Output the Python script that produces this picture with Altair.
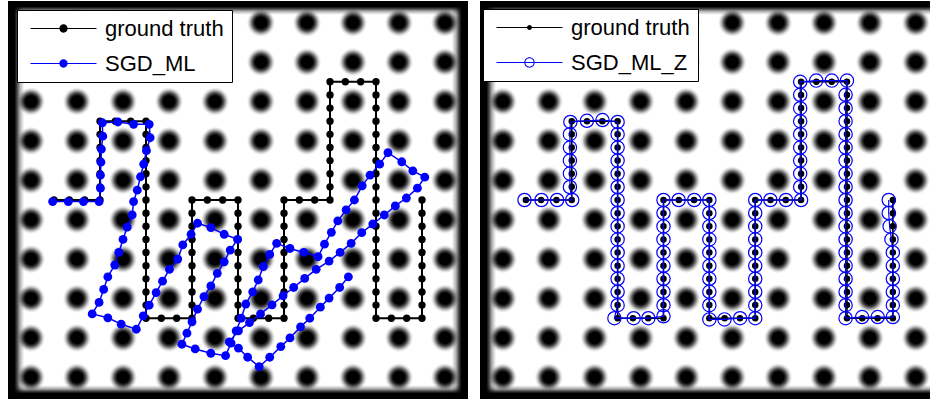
import altair as alt
import pandas as pd

# ---------------- data ----------------
# centres of the dark potential wells (same grid in both panels)
BLOB_CENTERS = [0.5, 1.5, 2.5, 3.5, 4.5, 5.5, 6.5, 7.5, 8.5, 9.5]
BLOB_HALF = 0.5

# ground-truth trajectory, coordinates in thirds of a lattice unit
GT_X3 = [3, 4, 5, 6,
         6, 6, 6, 6, 6, 6,
         7, 8, 9,
         9, 9, 9, 9, 9, 9, 9, 9, 9, 9, 9, 9, 9, 9, 9,
         10, 11, 12,
         12, 12, 12, 12, 12, 12, 12, 12, 12,
         13, 14, 15,
         15, 15, 15, 15, 15, 15, 15, 15, 15,
         16, 17, 18,
         18, 18, 18, 18, 18, 18, 18, 18, 18,
         19, 20, 21,
         21, 21, 21, 21, 21, 21, 21, 21, 21,
         22, 23, 24,
         24, 24, 24, 24, 24, 24, 24, 24, 24, 24, 24, 24, 24, 24, 24, 24, 24, 24,
         25, 26, 27,
         27, 27, 27, 27, 27, 27, 27, 27, 27]
GT_Y3 = [15, 15, 15, 15,
         14, 13, 12, 11, 10, 9,
         9, 9, 9,
         10, 11, 12, 13, 14, 15, 16, 17, 18, 19, 20, 21, 22, 23, 24,
         24, 24, 24,
         23, 22, 21, 20, 19, 18, 17, 16, 15,
         15, 15, 15,
         16, 17, 18, 19, 20, 21, 22, 23, 24,
         24, 24, 24,
         23, 22, 21, 20, 19, 18, 17, 16, 15,
         15, 15, 15,
         14, 13, 12, 11, 10, 9, 8, 7, 6,
         6, 6, 6,
         7, 8, 9, 10, 11, 12, 13, 14, 15, 16, 17, 18, 19, 20, 21, 22, 23, 24,
         24, 24, 24,
         23, 22, 21, 20, 19, 18, 17, 16, 15]
THIRDS = 3.0

# SGD_ML estimate (left panel)
SGD_ML_X = [0.97, 1.31, 1.64, 1.98,
            2.01, 2.01, 2.02, 2.03, 2.06, 2.05,
            2.39, 2.73, 3.07,
            3.09, 3.01, 2.95, 2.88, 2.81, 2.73, 2.70, 2.59, 2.50, 2.41, 2.32, 2.17, 2.08, 1.98, 1.83,
            2.17, 2.46, 2.79,
            2.94, 3.07, 3.22, 3.36, 3.51, 3.69, 3.80, 3.98, 4.12,
            4.41, 4.70, 4.99,
            4.83, 4.70, 4.55, 4.41, 4.26, 4.12, 4.00, 3.89, 3.78,
            4.07, 4.41, 4.73,
            4.85, 4.96, 5.07, 5.17, 5.32, 5.44, 5.55, 5.69, 5.84,
            6.13, 6.43, 6.74,
            6.88, 7.03, 7.17, 7.35, 7.53, 7.70, 7.87, 8.08, 8.26,
            8.56, 8.80, 9.06,
            8.90, 8.66, 8.42, 8.18, 7.93, 7.69, 7.46, 7.22, 6.98, 6.70, 6.45, 6.21, 5.98, 5.74, 5.49, 5.25, 5.01, 4.81,
            5.01, 5.21, 5.46,
            5.69, 5.93, 6.13, 6.36, 6.56, 6.79, 6.98, 7.21, 7.40]
SGD_ML_Y = [5.04, 5.04, 5.04, 5.04,
            4.70, 4.37, 4.04, 3.71, 3.38, 3.04,
            3.02, 3.08, 3.08,
            3.42, 3.75, 4.09, 4.41, 4.75, 5.04, 5.38, 5.69, 6.00, 6.33, 6.65, 6.95, 7.27, 7.60, 7.89,
            7.99, 8.15, 8.28,
            7.94, 7.67, 7.35, 7.06, 6.76, 6.50, 6.14, 5.87, 5.59,
            5.70, 5.87, 6.00,
            6.27, 6.57, 6.86, 7.18, 7.45, 7.77, 8.09, 8.38, 8.66,
            8.78, 8.89, 8.95,
            8.63, 8.32, 8.00, 7.64, 7.33, 7.03, 6.69, 6.38, 6.10,
            6.23, 6.33, 6.44,
            6.12, 5.82, 5.53, 5.25, 5.00, 4.64, 4.37, 4.09, 3.80,
            4.03, 4.26, 4.42,
            4.70, 4.95, 5.15, 5.38, 5.61, 5.83, 6.10, 6.33, 6.55, 6.76, 6.99, 7.22, 7.43, 7.66, 7.89, 8.11, 8.32, 8.60,
            8.76, 8.99, 9.23,
            8.99, 8.72, 8.50, 8.22, 8.00, 7.72, 7.49, 7.22, 6.95]

# SGD_ML_Z estimate (right panel)
SGD_ML_Z_X = [0.97, 1.34, 1.68, 2.01,
              1.96, 1.96, 1.96, 1.96, 1.96, 1.97,
              2.33, 2.67, 3.00,
              3.00, 3.00, 3.00, 3.00, 3.00, 3.00, 3.00, 3.00, 3.00, 3.00, 3.00, 3.00, 3.00, 3.00, 2.93,
              3.35, 3.67, 4.00,
              4.00, 4.00, 4.00, 4.00, 4.00, 4.00, 4.00, 4.00, 4.00,
              4.33, 4.67, 5.00,
              5.00, 5.00, 5.00, 5.00, 5.00, 5.00, 5.00, 5.00, 5.00,
              5.33, 5.67, 6.00,
              6.00, 6.00, 6.00, 6.00, 6.00, 6.00, 6.00, 6.00, 6.00,
              6.33, 6.67, 7.00,
              6.98, 6.98, 6.98, 6.98, 6.98, 6.98, 6.98, 6.98, 6.98,
              7.33, 7.67, 8.00,
              7.97, 7.97, 7.97, 7.97, 7.97, 7.97, 7.97, 7.97, 7.97, 7.97, 7.97, 7.97, 7.97, 7.97, 7.97, 7.97, 7.97, 7.97,
              8.33, 8.67, 9.00,
              9.00, 9.00, 9.00, 9.00, 9.00, 8.97, 8.93, 8.91, 8.91]
SGD_ML_Z_Y = [5.00, 5.00, 5.00, 5.00,
              4.67, 4.33, 4.00, 3.67, 3.33, 3.02,
              2.99, 2.97, 3.02,
              3.33, 3.67, 4.00, 4.33, 4.67, 5.00, 5.33, 5.67, 6.00, 6.33, 6.67, 7.00, 7.33, 7.67, 8.00,
              8.00, 8.00, 7.95,
              7.67, 7.33, 7.00, 6.67, 6.33, 6.00, 5.67, 5.33, 5.00,
              5.00, 5.00, 5.00,
              5.33, 5.67, 6.00, 6.33, 6.67, 7.00, 7.33, 7.67, 8.03,
              8.03, 8.00, 8.00,
              7.67, 7.33, 7.00, 6.67, 6.33, 6.00, 5.67, 5.33, 5.00,
              5.00, 5.00, 5.00,
              4.67, 4.33, 4.00, 3.67, 3.33, 3.00, 2.67, 2.33, 2.00,
              1.97, 1.97, 1.97,
              2.33, 2.67, 3.00, 3.33, 3.67, 4.00, 4.33, 4.67, 5.00, 5.33, 5.67, 6.00, 6.33, 6.67, 7.00, 7.33, 7.67, 8.00,
              7.97, 7.97, 7.97,
              7.67, 7.33, 7.00, 6.67, 6.33, 6.00, 5.67, 5.33, 5.00]

LEFT_SERIES = ["ground truth", "SGD_ML"]
RIGHT_SERIES = ["ground truth", "SGD_ML_Z"]

# ---------------- layout / style ----------------
LEFT_X_DOMAIN = [0.0, 10.0]
RIGHT_X_DOMAIN = [0.0, 9.81]
Y_DOMAIN = [-0.05, 10.05]
LEFT_IMAGE_X = [0.0, 10.0]
RIGHT_IMAGE_X = [0.0, 10.25]
IMAGE_Y = [-0.05, 10.05]
WALL = 0.35
LEFT_W, RIGHT_W, PANEL_H = 460, 450, 398
BLACK, BLUE = "#000000", "#0000ff"

BLOB_FILL = {
    "gradient": "radial", "x1": 0.5, "y1": 0.5, "r1": 0, "x2": 0.5, "y2": 0.5, "r2": 0.5,
    "stops": [
        {"offset": 0.0, "color": "#000000"},
        {"offset": 0.25, "color": "#000000"},
        {"offset": 0.36, "color": "#444444"},
        {"offset": 0.45, "color": "#999999"},
        {"offset": 0.53, "color": "#dddddd"},
        {"offset": 0.61, "color": "#ffffff"},
        {"offset": 1.0, "color": "#ffffff"},
    ],
}
WALL_STOPS = [
    {"offset": 0.0, "color": "rgba(0,0,0,1)"},
    {"offset": 0.4, "color": "rgba(0,0,0,1)"},
    {"offset": 0.55, "color": "rgba(0,0,0,0.75)"},
    {"offset": 0.75, "color": "rgba(0,0,0,0.3)"},
    {"offset": 1.0, "color": "rgba(0,0,0,0)"},
]


def wall_fill(x1, y1, x2, y2):
    return {"gradient": "linear", "x1": x1, "y1": y1, "x2": x2, "y2": y2, "stops": WALL_STOPS}


LINE_BAR = "M-6.6,-0.11H6.6V0.11H-6.6Z "
PATH_DOT = LINE_BAR + "M0.83,0A0.83,0.83,0,1,1,-0.83,0A0.83,0.83,0,1,1,0.83,0Z"
PATH_SMALL_DOT = LINE_BAR + "M0.5,0A0.5,0.5,0,1,1,-0.5,0A0.5,0.5,0,1,1,0.5,0Z"
PATH_RING = (LINE_BAR + "M1.04,0A1.04,1.04,0,1,1,-1.04,0A1.04,1.04,0,1,1,1.04,0Z "
             "M0.84,0A0.84,0.84,0,1,0,-0.84,0A0.84,0.84,0,1,0,0.84,0Z")

blob_df = pd.DataFrame([(cx, cy) for cx in BLOB_CENTERS for cy in BLOB_CENTERS], columns=["cx", "cy"])
blob_df["x0"] = blob_df["cx"] - BLOB_HALF
blob_df["x1"] = blob_df["cx"] + BLOB_HALF
blob_df["y0"] = blob_df["cy"] - BLOB_HALF
blob_df["y1"] = blob_df["cy"] + BLOB_HALF

truth_df = pd.DataFrame({"x": [v / THIRDS for v in GT_X3],
                         "y": [v / THIRDS for v in GT_Y3],
                         "step": list(range(len(GT_X3)))})
ml_df = pd.DataFrame({"x": SGD_ML_X, "y": SGD_ML_Y, "step": list(range(len(SGD_ML_X)))})
mlz_df = pd.DataFrame({"x": SGD_ML_Z_X, "y": SGD_ML_Z_Y, "step": list(range(len(SGD_ML_Z_X)))})


def make_legend(lx, ly, symbol_type, pad):
    return alt.Legend(
        title=None, orient="none", legendX=lx, legendY=ly, direction="vertical",
        symbolType=symbol_type, symbolSize=100, symbolStrokeWidth=0, symbolOpacity=1,
        symbolOffset=28, labelOffset=30.5,
        labelFont="Liberation Sans", labelFontSize=22, labelColor="black",
        labelExpr="datum.label + '" + pad + "'", labelLimit=400,
        padding=7.5, rowPadding=13, fillColor="white", strokeColor="black", cornerRadius=0,
    )


def panel(xdom, img_x, width, est_df, truth_line, truth_size, est_line, est_mark, series, legend):
    xs = alt.Scale(domain=xdom, nice=False, zero=False)
    ys = alt.Scale(domain=Y_DOMAIN, nice=False, zero=False, reverse=True)

    def X(f):
        return alt.X(f, type="quantitative", scale=xs, axis=None)

    def Y(f):
        return alt.Y(f, type="quantitative", scale=ys, axis=None)

    blobs = alt.Chart(blob_df).mark_rect(fill=BLOB_FILL, clip=True).encode(
        x=X("x0"), x2="x1", y=Y("y0"), y2="y1")

    sides = [
        ({"x0": img_x[0], "x1": img_x[0] + WALL, "y0": IMAGE_Y[0], "y1": IMAGE_Y[1]}, wall_fill(0, 0, 1, 0)),
        ({"x0": img_x[1] - WALL, "x1": img_x[1], "y0": IMAGE_Y[0], "y1": IMAGE_Y[1]}, wall_fill(1, 0, 0, 0)),
        ({"x0": img_x[0], "x1": img_x[1], "y0": IMAGE_Y[0], "y1": IMAGE_Y[0] + WALL}, wall_fill(0, 0, 0, 1)),
        ({"x0": img_x[0], "x1": img_x[1], "y0": IMAGE_Y[1] - WALL, "y1": IMAGE_Y[1]}, wall_fill(0, 1, 0, 0)),
    ]
    walls = [alt.Chart(pd.DataFrame([d])).mark_rect(fill=g, clip=True).encode(
        x=X("x0"), x2="x1", y=Y("y0"), y2="y1") for d, g in sides]

    t_line = alt.Chart(truth_df).mark_line(color=BLACK, strokeWidth=truth_line, clip=True).encode(
        x=X("x"), y=Y("y"), order="step:Q")
    t_pts = alt.Chart(truth_df).mark_circle(color=BLACK, size=truth_size, opacity=1, clip=True).encode(
        x=X("x"), y=Y("y"))
    e_line = alt.Chart(est_df).mark_line(color=BLUE, strokeWidth=est_line, clip=True).encode(
        x=X("x"), y=Y("y"), order="step:Q")
    e_pts = alt.Chart(est_df).mark_point(clip=True, **est_mark).encode(x=X("x"), y=Y("y"))

    key = alt.Chart(pd.DataFrame({"series": series})).transform_filter("false").mark_point(
        filled=True, opacity=1).encode(
        color=alt.Color("series:N", scale=alt.Scale(domain=series, range=[BLACK, BLUE]), legend=legend))

    return alt.layer(blobs, *walls, t_line, t_pts, e_line, e_pts, key).properties(
        width=width, height=PANEL_H)


left = panel(LEFT_X_DOMAIN, LEFT_IMAGE_X, LEFT_W, ml_df, 2, 54, 1.5,
             {"shape": "circle", "filled": True, "color": BLUE, "size": 78, "opacity": 1},
             LEFT_SERIES, make_legend(9, 9, PATH_DOT, "\u00a0\u00a0"))

right_symbol = {"expr": "datum.value === 'SGD_ML_Z' ? '" + PATH_RING + "' : '" + PATH_SMALL_DOT + "'"}
right = panel(RIGHT_X_DOMAIN, RIGHT_IMAGE_X, RIGHT_W, mlz_df, 1.6, 42, 1.2,
              {"shape": "circle", "filled": False, "color": BLUE, "size": 177, "strokeWidth": 1.2, "opacity": 1},
              RIGHT_SERIES, make_legend(3, 8, right_symbol, "\u00a0\u00a0\u00a0"))

chart = (
    alt.hconcat(left, right, spacing=12)
    .resolve_scale(x="independent", y="independent", color="independent")
    .resolve_legend(color="independent")
    .properties(padding={"left": 8, "top": 1, "right": 0, "bottom": 0}, background="white")
    .configure_view(stroke=None)
)

chart.save("out.html", embed_options={"renderer": "svg", "actions": False})
